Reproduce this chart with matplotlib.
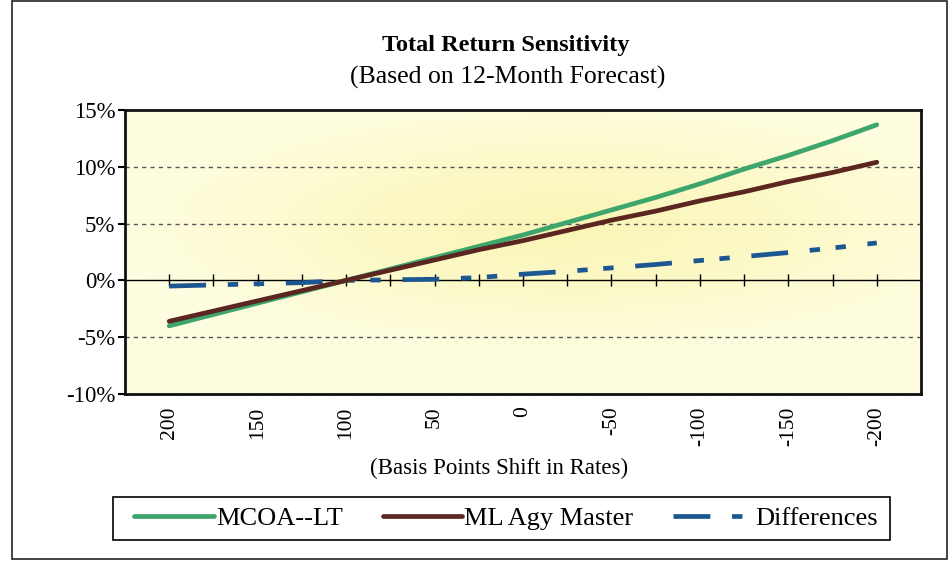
import numpy as np
import matplotlib
matplotlib.use("Agg")
import matplotlib.pyplot as plt
from matplotlib.colors import LinearSegmentedColormap
from matplotlib.patches import Rectangle
from matplotlib.ticker import PercentFormatter

# ---------------------------------------------------------------------------
# Data
# ---------------------------------------------------------------------------
bp_shift = [200, 175, 150, 125, 100, 75, 50, 25, 0,
            -25, -50, -75, -100, -125, -150, -175, -200]
mcoa_lt = [-4.0, -3.0, -2.0, -1.0, 0.0, 1.0, 2.0, 3.0, 4.0,
           5.1, 6.2, 7.3, 8.5, 9.8, 11.0, 12.3, 13.7]
ml_agy_master = [-3.6, -2.7, -1.8, -0.9, 0.0, 0.9, 1.8, 2.7, 3.5,
                 4.4, 5.3, 6.1, 7.0, 7.8, 8.7, 9.5, 10.4]
differences = [-0.5, -0.4, -0.3, -0.2, 0.0, 0.05, 0.1, 0.25, 0.55,
               0.8, 1.1, 1.4, 1.75, 2.1, 2.45, 2.85, 3.3]
y_ticks = [-10, -5, 0, 5, 10, 15]

plt.rcParams["font.family"] = ["Liberation Serif", "DejaVu Serif"]
plt.rcParams["axes.unicode_minus"] = False

fig = plt.figure(figsize=(9.5, 5.62), dpi=100)
ax = fig.add_axes([125 / 950, 1 - 394 / 562, (921 - 125) / 950, (394 - 110) / 562])

x = np.arange(len(bp_shift))
ax.set_xlim(-1, len(bp_shift))
ax.set_ylim(-10, 15)

# pale yellow background, a touch stronger towards the middle
cmap_bg = LinearSegmentedColormap.from_list("bg", ["#fefde0", "#fcf9c8", "#faf5b6"])
gx, gy = np.meshgrid(np.linspace(-1, 1, 200), np.linspace(-1, 1, 120))
glow = 1 - np.clip(np.sqrt((gx * 0.9 - 0.1) ** 2 + (gy * 1.1 - 0.2) ** 2), 0, 1)
ax.imshow(glow, cmap=cmap_bg, extent=[-1, len(bp_shift), -10, 15],
          aspect="auto", origin="lower", zorder=0)

# dashed gridlines
for yv in y_ticks:
    if yv not in (0, 15, -10):
        ax.axhline(yv, color="#555555", lw=1, ls=(0, (3, 3)), zorder=1)

ax.plot(x, mcoa_lt, color="#3ea56c", lw=3.4, solid_capstyle="round",
        label="MCOA--LT", zorder=4)
ax.plot(x, ml_agy_master, color="#5b2520", lw=3.4, solid_capstyle="round",
        label="ML Agy Master", zorder=5)
ax.plot(x, differences, color="#1d5791", lw=3.4, dash_capstyle="butt",
        ls=(0, (7.8, 4.6, 2.2, 3.3, 2.2, 4.6)), label="Differences", zorder=3)

# zero line with category ticks
zero_frac = (0 - ax.get_ylim()[0]) / (ax.get_ylim()[1] - ax.get_ylim()[0])
sec = ax.secondary_xaxis(zero_frac)
sec.set_xticks(x)
sec.set_xticklabels([])
sec.tick_params(direction="inout", length=9, width=1, color="black")
sec.spines["bottom"].set_linewidth(1)
sec.spines["bottom"].set_zorder(2)

# x labels every other category, rotated
ax.set_xticks(x[::2])
ax.set_xticklabels([str(v) for v in bp_shift[::2]], rotation=90, fontsize=15.5)
ax.tick_params(axis="x", length=0, pad=9)

ax.set_yticks(y_ticks)
ax.yaxis.set_major_formatter(PercentFormatter(decimals=0))
ax.tick_params(axis="y", direction="out", length=5, width=1.5, labelsize=16.5, pad=2)

for side in ["left", "bottom", "top", "right"]:
    ax.spines[side].set_linewidth(2)
    ax.spines[side].set_color("#111111")
    ax.spines[side].set_zorder(6)

fig.text(506 / 950, 1 - 46 / 562, "Total Return Sensitivity", ha="center",
         va="center", fontsize=17.5, fontweight="bold")
fig.text(508 / 950, 1 - 77 / 562, "(Based on 12-Month Forecast)", ha="center",
         va="center", fontsize=18.5)
fig.text(499 / 950, 1 - 468 / 562, "(Basis Points Shift in Rates)", ha="center",
         va="center", fontsize=16.5)

leg = fig.legend(loc="center", bbox_to_anchor=(506 / 950, 1 - 518 / 562), ncol=3,
                 fontsize=19, frameon=False,
                 handlelength=3.0, handletextpad=0.1, columnspacing=1.5,
                 borderaxespad=0)

# legend box
fig.patches.append(Rectangle((113 / 950, 1 - 540 / 562), (890 - 113) / 950, 43 / 562,
                             transform=fig.transFigure, fill=False,
                             edgecolor="black", lw=1.2))

# outer chart border
fig.patches.append(Rectangle((12 / 950, 1 - 559 / 562), (947 - 12) / 950, 558 / 562,
                             transform=fig.transFigure, fill=False,
                             edgecolor="#222222", lw=1.2))

fig.savefig("out.png", dpi=100, facecolor="white")
